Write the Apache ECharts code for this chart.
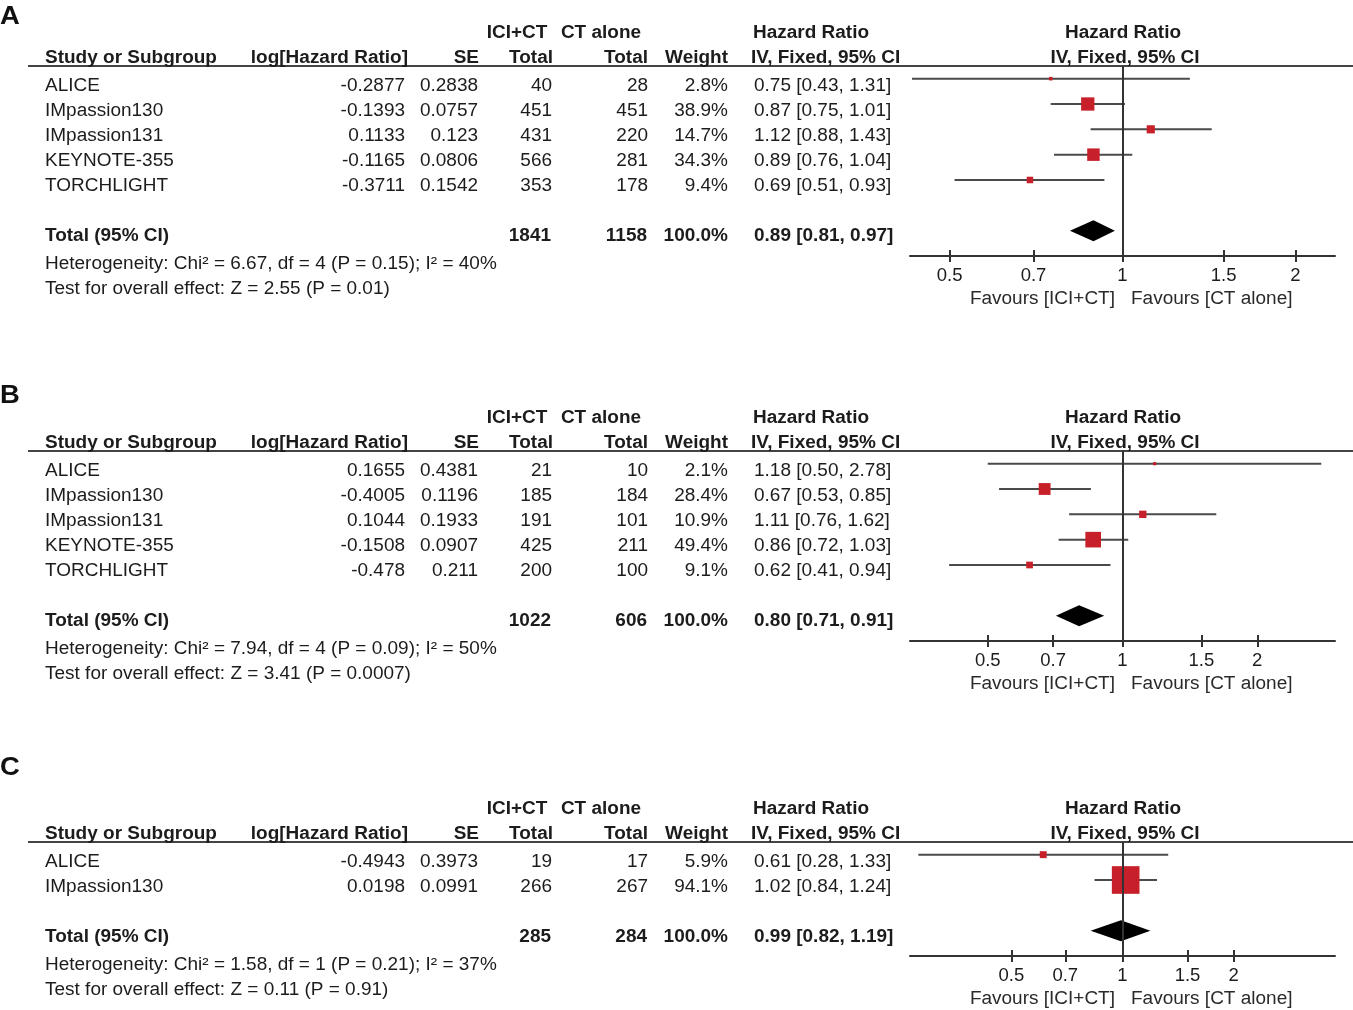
<!DOCTYPE html>
<html>
<head>
<meta charset="utf-8">
<script src="https://cdn.jsdelivr.net/npm/echarts@6/dist/echarts.min.js"></script>
<style>
html,body{margin:0;padding:0;background:#fff;}
#chart{width:1353px;height:1010px;}
</style>
</head>
<body>
<div id="chart"></div>
<script>
// ---------------- DATA ----------------
const tickLabels = ['0.5', '0.7', '1', '1.5', '2'];

// Panel A
const studiesA = ['ALICE', 'IMpassion130', 'IMpassion131', 'KEYNOTE-355', 'TORCHLIGHT'];
const logHrA = ['-0.2877', '-0.1393', '0.1133', '-0.1165', '-0.3711'];
const seA = ['0.2838', '0.0757', '0.123', '0.0806', '0.1542'];
const totalIciA = [40, 451, 431, 566, 353];
const totalCtA = [28, 451, 220, 281, 178];
const weightA = [2.8, 38.9, 14.7, 34.3, 9.4];
const hrA = [0.75, 0.87, 1.12, 0.89, 0.69];
const loA = [0.43, 0.75, 0.88, 0.76, 0.51];
const hiA = [1.31, 1.01, 1.43, 1.04, 0.93];
const sumA = [1841, 1158];
const pooledA = [0.89, 0.81, 0.97];
const hetA = 'Heterogeneity: Chi\u00b2 = 6.67, df = 4 (P = 0.15); I\u00b2 = 40%';
const testA = 'Test for overall effect: Z = 2.55 (P = 0.01)';

// Panel B
const studiesB = ['ALICE', 'IMpassion130', 'IMpassion131', 'KEYNOTE-355', 'TORCHLIGHT'];
const logHrB = ['0.1655', '-0.4005', '0.1044', '-0.1508', '-0.478'];
const seB = ['0.4381', '0.1196', '0.1933', '0.0907', '0.211'];
const totalIciB = [21, 185, 191, 425, 200];
const totalCtB = [10, 184, 101, 211, 100];
const weightB = [2.1, 28.4, 10.9, 49.4, 9.1];
const hrB = [1.18, 0.67, 1.11, 0.86, 0.62];
const loB = [0.50, 0.53, 0.76, 0.72, 0.41];
const hiB = [2.78, 0.85, 1.62, 1.03, 0.94];
const sumB = [1022, 606];
const pooledB = [0.80, 0.71, 0.91];
const hetB = 'Heterogeneity: Chi\u00b2 = 7.94, df = 4 (P = 0.09); I\u00b2 = 50%';
const testB = 'Test for overall effect: Z = 3.41 (P = 0.0007)';

// Panel C
const studiesC = ['ALICE', 'IMpassion130'];
const logHrC = ['-0.4943', '0.0198'];
const seC = ['0.3973', '0.0991'];
const totalIciC = [19, 266];
const totalCtC = [17, 267];
const weightC = [5.9, 94.1];
const hrC = [0.61, 1.02];
const loC = [0.28, 0.84];
const hiC = [1.33, 1.24];
const sumC = [285, 284];
const pooledC = [0.99, 0.82, 1.19];
const hetC = 'Heterogeneity: Chi\u00b2 = 1.58, df = 1 (P = 0.21); I\u00b2 = 37%';
const testC = 'Test for overall effect: Z = 0.11 (P = 0.91)';

// ---------------- LAYOUT / STYLE ----------------
const FONT = '"Liberation Sans", Arial, Helvetica, sans-serif';
const FS = 18;
const SX = 1.055;        // horizontal stretch of the reference text
const TXT = '#1c1c1c';
const RED = '#c8202a';

const panels = [
  { letter: 'A', letterY: 17, base: 66, range: 0.852, boxK: 2.13,
    studies: studiesA, logHr: logHrA, se: seA, nIci: totalIciA, nCt: totalCtA, w: weightA,
    hr: hrA, lo: loA, hi: hiA, sum: sumA, pooled: pooledA, het: hetA, test: testA },
  { letter: 'B', letterY: 396, base: 451, range: 1.093, boxK: 2.22,
    studies: studiesB, logHr: logHrB, se: seB, nIci: totalIciB, nCt: totalCtB, w: weightB,
    hr: hrB, lo: loB, hi: hiB, sum: sumB, pooled: pooledB, het: hetB, test: testB },
  { letter: 'C', letterY: 768, base: 842, range: 1.325, boxK: 2.85,
    studies: studiesC, logHr: logHrC, se: seC, nIci: totalIciC, nCt: totalCtC, w: weightC,
    hr: hrC, lo: loC, hi: hiC, sum: sumC, pooled: pooledC, het: hetC, test: testC }
];

const ROWK = 25.33;      // forest row pitch
const TROW = 25.0;       // table text row pitch
const GRID_LEFT = 910, GRID_W = 425;

const tickVals = tickLabels.map(s => Math.log(parseFloat(s)));
const fmtTick = v => {
  const i = tickVals.findIndex(t => Math.abs(t - v) < 1e-6);
  return i >= 0 ? tickLabels[i] : '';
};

function txt(text, x, y, align, bold, size, color) {
  return {
    type: 'text', silent: true,
    x: x, y: y, scaleX: SX, scaleY: 1,
    style: {
      text: text, x: 0, y: 0,
      font: (bold ? 'bold ' : '') + (size || FS) + 'px ' + FONT,
      fill: color || TXT,
      align: align || 'left', verticalAlign: 'middle',
      textAlign: align || 'left', textVerticalAlign: 'middle'
    }
  };
}

const grids = [], xAxes = [], yAxes = [], series = [], graphics = [];

panels.forEach((p, pi) => {
  const n = p.studies.length;
  const yMax = n + 2;
  const height = (yMax + 0.5) * ROWK;
  const bottomY = p.base + height;

  grids.push({ left: GRID_LEFT, top: p.base, width: GRID_W, height: height });

  // main x axis (ticks outside)
  xAxes.push({
    gridIndex: pi, type: 'value', position: 'bottom', min: -p.range, max: p.range,
    splitLine: { show: false },
    axisLine: { show: true, onZero: false, lineStyle: { color: '#333', width: 2 } },
    axisTick: { show: true, length: 6, lineStyle: { color: '#333', width: 2 }, customValues: tickVals },
    axisLabel: { show: true, customValues: tickVals, formatter: fmtTick, margin: 10,
      fontFamily: FONT, fontSize: 18.5, color: TXT }
  });
  // secondary x axis (ticks inside) so ticks cross the axis line
  xAxes.push({
    gridIndex: pi, type: 'value', position: 'bottom', min: -p.range, max: p.range,
    splitLine: { show: false },
    axisLine: { show: false, onZero: false },
    axisTick: { show: true, inside: true, length: 6, lineStyle: { color: '#333', width: 2 }, customValues: tickVals },
    axisLabel: { show: false }
  });
  yAxes.push({ gridIndex: pi, type: 'value', inverse: true, min: -0.5, max: yMax, show: false });

  const studyData = p.studies.map((s, i) => [Math.log(p.lo[i]), Math.log(p.hi[i]), Math.log(p.hr[i]), i, p.w[i]]);
  const boxK = p.boxK;
  series.push({
    type: 'custom', xAxisIndex: pi * 2, yAxisIndex: pi, silent: true,
    data: studyData,
    encode: { x: [0, 1, 2], y: 3 },
    renderItem: (params, api) => {
      const a = api.coord([api.value(0), api.value(3)]);
      const b = api.coord([api.value(1), api.value(3)]);
      const c = api.coord([api.value(2), api.value(3)]);
      const s = boxK * Math.sqrt(api.value(4));
      return {
        type: 'group', children: [
          { type: 'line', shape: { x1: a[0], y1: a[1], x2: b[0], y2: b[1] }, style: { stroke: '#4a4a4a', lineWidth: 2 } },
          { type: 'rect', shape: { x: c[0] - s / 2, y: c[1] - s / 2, width: s, height: s }, style: { fill: RED } }
        ]
      };
    },
    markLine: {
      silent: true, symbol: 'none', animation: false,
      label: { show: false },
      lineStyle: { color: '#333', width: 2, type: 'solid' },
      data: [{ xAxis: 0 }]
    },
    z: 3
  });
  series.push({
    type: 'custom', xAxisIndex: pi * 2, yAxisIndex: pi, silent: true,
    data: [[Math.log(p.pooled[1]), Math.log(p.pooled[2]), Math.log(p.pooled[0]), n + 1]],
    encode: { x: [0, 1, 2], y: 3 },
    renderItem: (params, api) => {
      const a = api.coord([api.value(0), api.value(3)]);
      const b = api.coord([api.value(1), api.value(3)]);
      const c = api.coord([api.value(2), api.value(3)]);
      const h = 10.5;
      return {
        type: 'polygon',
        shape: { points: [[a[0], a[1]], [c[0], c[1] - h], [b[0], b[1]], [c[0], c[1] + h]] },
        style: { fill: '#000' }
      };
    },
    z: 4
  });

  // ---------- text ----------
  const B = p.base;
  graphics.push(txt(p.letter, 0, p.letterY, 'left', true, 26, '#111'));
  // header line
  graphics.push({ type: 'line', silent: true, shape: { x1: 28, y1: B, x2: 1353, y2: B }, style: { stroke: '#444', lineWidth: 2 } });
  const h1 = B - 33, h2 = B - 8;
  graphics.push(txt('ICI+CT', 517, h1, 'center', true));
  graphics.push(txt('CT alone', 601, h1, 'center', true));
  graphics.push(txt('Hazard Ratio', 811, h1, 'center', true));
  graphics.push(txt('Hazard Ratio', 1123, h1, 'center', true));
  graphics.push(txt('Study or Subgroup', 45, h2, 'left', true));
  graphics.push(txt('log[Hazard Ratio]', 408, h2, 'right', true));
  graphics.push(txt('SE', 479, h2, 'right', true));
  graphics.push(txt('Total', 553, h2, 'right', true));
  graphics.push(txt('Total', 648, h2, 'right', true));
  graphics.push(txt('Weight', 728, h2, 'right', true));
  graphics.push(txt('IV, Fixed, 95% CI', 751, h2, 'left', true));
  graphics.push(txt('IV, Fixed, 95% CI', 1125, h2, 'center', true));

  p.studies.forEach((s, i) => {
    const y = B + 20 + i * TROW;
    graphics.push(txt(s, 45, y, 'left'));
    graphics.push(txt(p.logHr[i], 405, y, 'right'));
    graphics.push(txt(p.se[i], 478, y, 'right'));
    graphics.push(txt(String(p.nIci[i]), 552, y, 'right'));
    graphics.push(txt(String(p.nCt[i]), 648, y, 'right'));
    graphics.push(txt(p.w[i].toFixed(1) + '%', 728, y, 'right'));
    graphics.push(txt(p.hr[i].toFixed(2) + ' [' + p.lo[i].toFixed(2) + ', ' + p.hi[i].toFixed(2) + ']', 754, y, 'left'));
  });
  const ty = B + 20 + (n + 1) * TROW;
  graphics.push(txt('Total (95% CI)', 45, ty, 'left', true));
  graphics.push(txt(String(p.sum[0]), 551, ty, 'right', true));
  graphics.push(txt(String(p.sum[1]), 647, ty, 'right', true));
  graphics.push(txt('100.0%', 728, ty, 'right', true));
  graphics.push(txt(p.pooled[0].toFixed(2) + ' [' + p.pooled[1].toFixed(2) + ', ' + p.pooled[2].toFixed(2) + ']', 754, ty, 'left', true));
  graphics.push(txt(p.het, 45, ty + 28, 'left'));
  graphics.push(txt(p.test, 45, ty + 53, 'left'));

  const fy = bottomY + 43;
  graphics.push(txt('Favours [ICI+CT]', 1115, fy, 'right', false, FS, '#2a2a2a'));
  graphics.push(txt('Favours [CT alone]', 1131, fy, 'left', false, FS, '#2a2a2a'));
});

const chart = echarts.init(document.getElementById('chart'), null, { renderer: 'canvas' });
chart.setOption({
  backgroundColor: '#fff',
  animation: false,
  grid: grids,
  xAxis: xAxes,
  yAxis: yAxes,
  series: series,
  graphic: { elements: graphics }
});
</script>
</body>
</html>
